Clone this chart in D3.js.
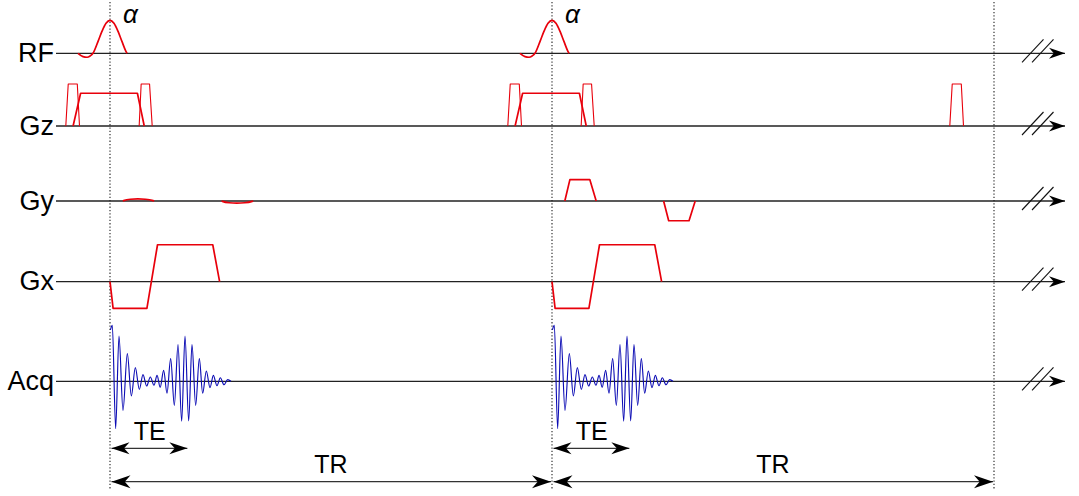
<!DOCTYPE html>
<html>
<head>
<meta charset="utf-8">
<script src="https://cdn.jsdelivr.net/npm/d3@7.9.0/dist/d3.min.js"></script>
<style>
  body { margin: 0; background: #fff; }
  svg { display: block; }
  text { font-family: "Liberation Sans", Arial, sans-serif; fill: #000; }
</style>
</head>
<body>
<svg></svg>
<script>
// timing in ms, amplitudes normalised per channel
const channels = ["RF", "Gz", "Gy", "Gx", "Acq"];
const TR = 20;
const TE = 3.5;
const trStarts = [0, 20];
const nextTrStart = 40;

// RF pulse (truncated sinc)
const rfT   = [-1.45, -1.22, -1.04, -0.9, -0.77, -0.54, -0.36, -0.18, 0, 0.18, 0.36, 0.54, 0.72, 0.77];
const rfAmp = [0, -0.1, -0.12, -0.08, 0, 0.36, 0.67, 0.91, 1, 0.91, 0.67, 0.36, 0.06, 0];

// slice gradient + crushers [ramp start, plateau start, plateau end, ramp end]
const gzSlice = [-1.67, -1.33, 1.24, 1.55];
const gzSliceAmp = 0.78;
const gzCrushPre = [-2.0, -1.89, -1.48, -1.38];
const gzCrushPost = [1.32, 1.41, 1.79, 1.91];
const gzCrushAmp = 1.0;

// phase encode / rewind, one amplitude per TR
const gyPhase = [0.58, 0.81, 1.71, 2.0];
const gyPhaseAmp = [0.05, 0.51];
const gyRewind = [5.05, 5.28, 6.2, 6.48];
const gyRewindAmp = [-0.05, -0.47];

// readout gradient
const gxT   = [0, 0.14, 1.67, 2.15, 4.65, 4.96];
const gxAmp = [0, -0.635, -0.635, 0.88, 0.88, 0];

const acqT = [0.02, 0.105, 0.256, 0.407, 0.588, 0.784, 0.965, 1.146, 1.327, 1.493, 1.659, 1.825,
  1.99, 2.13, 2.27, 2.428, 2.579, 2.745, 2.911, 3.077, 3.243, 3.394, 3.56, 3.71, 3.876, 4.042,
  4.193, 4.359, 4.525, 4.676, 4.842, 4.993, 5.158, 5.324, 5.475];
const acqAmp = [0.92, 1.0, -0.846, 0.809, -0.518, 0.493, -0.262, 0.243, -0.143, 0.118, -0.084, 0.077,
  -0.071, 0.107, -0.107, 0.196, -0.214, 0.404, -0.429, 0.654, -0.714, 0.809, -0.709, 0.654, -0.429, 0.404,
  -0.214, 0.184, -0.114, 0.107, -0.079, 0.064, -0.061, 0.029, 0];

const width = 1079, height = 496;
const svg = d3.select("svg").attr("width", width).attr("height", height);

const x = d3.scaleLinear().domain([0, 2 * TR]).range([110, 994]);
const rowY = { RF: 53.3, Gz: 126, Gy: 201, Gx: 281.7, Acq: 381.3 };
const gradScale = d3.scaleLinear().domain([-1, 1]).range([42, -42]);
const rfScale = d3.scaleLinear().domain([-1, 1]).range([33, -33]);
const acqScale = d3.scaleLinear().domain([-1, 1]).range([56, -56]);

const axisStart = 56, axisEnd = 1068;

// arrow heads
const defs = svg.append("defs");
function marker(id, len, half) {
  defs.append("marker")
    .attr("id", id)
    .attr("viewBox", `${-len - 1} ${-half - 1} ${len + 2} ${2 * half + 2}`)
    .attr("refX", 0).attr("refY", 0)
    .attr("markerWidth", len + 2).attr("markerHeight", 2 * half + 2)
    .attr("markerUnits", "userSpaceOnUse")
    .attr("orient", "auto-start-reverse")
    .append("path")
    .attr("d", `M0,0 L${-len},${-half} L${-len * 0.7},0 L${-len},${half} Z`)
    .attr("fill", "#000");
}
marker("ax", 16, 5.5);
marker("te", 18, 6);
marker("tr", 19, 6.5);

// dotted TR boundaries
svg.selectAll(".tick-tr")
  .data([0, TR, 2 * TR])
  .enter().append("line")
  .attr("x1", d => x(d)).attr("x2", d => x(d))
  .attr("y1", 2).attr("y2", 490)
  .attr("stroke", "#333")
  .attr("stroke-width", 1.2)
  .attr("stroke-dasharray", "1.3,2");

// channel axes
channels.forEach(c => {
  const y = rowY[c];
  svg.append("line")
    .attr("x1", axisStart).attr("x2", axisEnd - 3)
    .attr("y1", y).attr("y2", y)
    .attr("stroke", "#222").attr("stroke-width", 1.3)
    .attr("marker-end", "url(#ax)");
  // break marks
  [0, 10].forEach(dx => {
    svg.append("line")
      .attr("x1", axisEnd - 46 + dx).attr("y1", y + 9)
      .attr("x2", axisEnd - 24.5 + dx).attr("y2", y - 14)
      .attr("stroke", "#111").attr("stroke-width", 1.1);
  });
  svg.append("text")
    .attr("x", 54).attr("y", y + 8.5)
    .attr("text-anchor", "end")
    .attr("font-size", 27)
    .text(c);
});

function trap(times, amp, t0) {
  return [
    { t: t0 + times[0], a: 0 }, { t: t0 + times[1], a: amp },
    { t: t0 + times[2], a: amp }, { t: t0 + times[3], a: 0 }
  ];
}

function draw(row, pts, scale, opts) {
  const line = d3.line()
    .x(d => x(d.t))
    .y(d => rowY[row] + scale(d.a))
    .curve(opts.curve || d3.curveLinear);
  svg.append("path")
    .attr("d", line(pts))
    .attr("fill", "none")
    .attr("stroke", opts.color)
    .attr("stroke-width", opts.width)
    .attr("stroke-linejoin", "round");
}

const red = "#e8000b";
const blue = "#0c0cb4";

trStarts.forEach((t0, i) => {
  // RF
  draw("RF", rfT.map((t, k) => ({ t: t0 + t, a: rfAmp[k] })), rfScale,
    { color: red, width: 1.7, curve: d3.curveMonotoneX });
  svg.append("text")
    .attr("x", x(t0) + 13).attr("y", 23)
    .attr("font-family", "Liberation Serif")
    .attr("font-style", "italic")
    .attr("font-size", 26)
    .text("α");

  // Gz
  draw("Gz", trap(gzCrushPre, gzCrushAmp, t0), gradScale, { color: red, width: 1.1 });
  draw("Gz", trap(gzSlice, gzSliceAmp, t0), gradScale, { color: red, width: 1.7 });
  draw("Gz", trap(gzCrushPost, gzCrushAmp, t0), gradScale, { color: red, width: 1.1 });

  // Gy
  draw("Gy", trap(gyPhase, gyPhaseAmp[i], t0), gradScale,
    { color: red, width: 1.7, curve: i === 0 ? d3.curveBasis : d3.curveLinear });
  draw("Gy", trap(gyRewind, gyRewindAmp[i], t0), gradScale,
    { color: red, width: 1.7, curve: i === 0 ? d3.curveBasis : d3.curveLinear });

  // Gx
  draw("Gx", gxT.map((t, k) => ({ t: t0 + t, a: gxAmp[k] })), gradScale, { color: red, width: 1.7 });

  // Acq
  draw("Acq", acqT.map((t, k) => ({ t: t0 + t, a: acqAmp[k] })), acqScale,
    { color: blue, width: 1.15, curve: d3.curveMonotoneX });

  // TE arrow
  const teY = 448.3;
  svg.append("line")
    .attr("x1", x(t0) + 1.5).attr("x2", x(t0 + TE))
    .attr("y1", teY).attr("y2", teY)
    .attr("stroke", "#333").attr("stroke-width", 1.3)
    .attr("marker-start", "url(#te)").attr("marker-end", "url(#te)");
  svg.append("text")
    .attr("x", (x(t0) + x(t0 + TE)) / 2 + 1).attr("y", 440)
    .attr("text-anchor", "middle").attr("font-size", 25)
    .text("TE");

  // TR arrow
  const trY = 481.7;
  svg.append("line")
    .attr("x1", x(t0) + 1.5).attr("x2", x(t0 + TR) - 1)
    .attr("y1", trY).attr("y2", trY)
    .attr("stroke", "#333").attr("stroke-width", 1.3)
    .attr("marker-start", "url(#tr)").attr("marker-end", "url(#tr)");
  svg.append("text")
    .attr("x", (x(t0) + x(t0 + TR)) / 2).attr("y", 472.5)
    .attr("text-anchor", "middle").attr("font-size", 25)
    .text("TR");
});

// first crusher of the following TR
draw("Gz", trap(gzCrushPre, gzCrushAmp, nextTrStart), gradScale, { color: red, width: 1.1 });
</script>
</body>
</html>
